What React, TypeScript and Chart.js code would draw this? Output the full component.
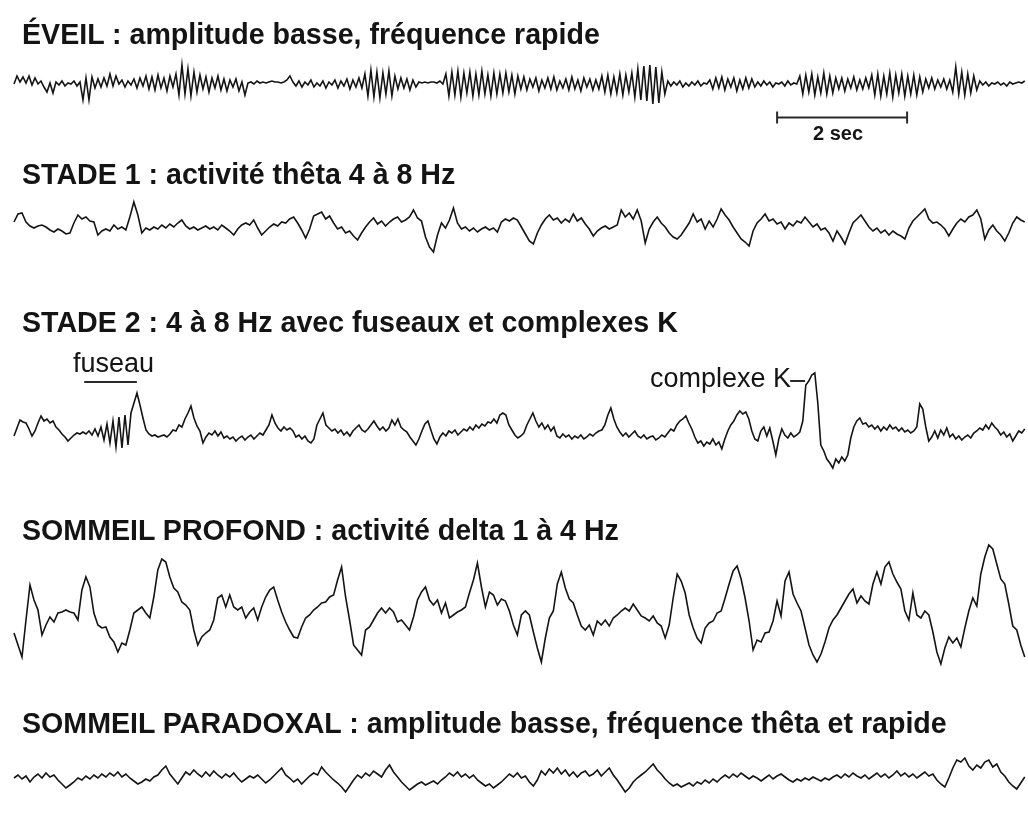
import React, { useEffect, useRef } from "react";
import { Chart, registerables } from "chart.js";

Chart.register(...registerables);

// ---- EEG traces (amplitude, arbitrary units; positive = up), equally spaced in time ----
const EVEIL = [
  0, 8,
  2, 7, 1, 8, -1, 6, 0, 3,
  -3, -8, 1,
  -9, 2, -1, 3, -2, 1, 0, 3, -2, 2,
  -16, 6, -16, 7, -4,
  5, -3, 6, -2,
  10, -2, 8, 0, 4, -3, 3, -1, 5, -4, 6, -2,
  8, -5, 7, -6, 9, -4, 6, -7, 8, -3, 10,
  -11, 19, -10, 15, -12, 12, -8,
  9, -5, 7, -8, 6, -4, 8, -6, 5, -7, 4, -3, 5,
  -7, 2, -11, 1,
  2, 0, 3, 1, 2, 1, 2, 3, 2, 2, 1, 2,
  4, 8, 2,
  -2, 3, -3, 2, -1, 4, -3, 1, -2, 3, -4, 2,
  -1, 4, -4, 3, -2, 5, -5, 4, -3, 6, -4,
  10, -12, 14, -13, 12, -14, 11, -10, 13, -12, 8,
  -5, 6, -4, 5, -6, 4, -3,
  2, 1, 2, 1, 2, 2, 1, 3, 0,
  10, -12, 12, -11, 13, -13, 11, -9, 12, -12, 10, -11, 13, -10, 9, -12, 11, -10,
  10, -9, 11, -8, 9, -10, 8,
  -5, 7, -6, 5, -3, 6, -7, 4, -4, 6, -5, 7, -6, 3, -4, 5,
  -6, 7, -5, 4, -7, 6, -3, 5, -6, 4, -5,
  8, -8, 9, -10, 7, -9, 10, -11, 9, -8, 11,
  -13, 15, -16, 18, -17, 19, -20, 17, -19, 12, -10,
  3, -2, 2, -1, 3, -3, 1, -2, 2, -1, 3, -2, 1, 0,
  4, -5, 6, -4, 7, -6, 5, -3, 6, -7, 4, -5, 6, -4, 5, -3,
  2, -2, 3, -1, 2, -3, 1, 0, 2, -2, 3, -1, 1, 0,
  8, -10, 9, -8, 10, -11, 7, -9, 11, -10, 8, -9, 6,
  -5, 6, -7, 5, -4, 7, -6, 4, -5, 6, -4,
  9, -11, 10, -12, 8, -10, 11, -13, 9, -9, 10, -12, 8, -10, 9, -11, 7, -8,
  5, -4, 6, -5, 4, -3, 5, -5, 4,
  -8, 17, -10, 12, -11, 10, -9, 8, -6,
  3, -1, 2, -2, 1, 0, 2, -1, 1, -2, 2, 0, 1, 2, 1, 3,
];

const STADE1 = [
  3, 11, 12, 3, -1, -3, -1, 0, -2, -5,
  -7, -4, -6, -9, -8, 2, 10, 6, 8, 4,
  3, -10, -6, -4, -6, 0, -4, -2, -5, 8,
  23, 10, -8, -3, -5, -2, -4, 0, -3, 1,
  -2, 2, 5, -1, -4, -2, -5, -3, -1, -4,
  -2, -5, 0, -3, -6, -10, -4, 0, 2, 0,
  5, -3, -10, -6, -2, 1, -1, 3, 2, 6,
  8, 2, -5, -13, -4, 9, 11, 13, 6, 9,
  2, -4, -2, -8, -6, -11, -15, -8, -2, 3,
  7, 1, 4, -1, 3, 6, 8, 3, 5, 8,
  15, 7, 4, -12, -22, -27, -10, 2, -3, 5,
  17, 2, -4, -2, -6, -3, -7, -4, -2, -5,
  -3, -7, 3, 6, 4, 7, 5, -2, -9, -16,
  -19, -8, 0, 6, 10, 5, 7, 2, 6, 3,
  11, 4, 7, 1, -4, -11, -6, -3, -1, -4,
  -2, 0, 15, 8, 12, 6, 15, 4, -18, -4,
  3, 8, 2, -2, -8, -12, -14, -10, -4, 2,
  11, 3, 6, -4, 4, -2, 6, 16, 10, 5,
  -2, -8, -14, -17, -21, -6, 2, 6, 11, 4,
  6, 1, 3, -4, 2, -1, 4, 2, 8, 3,
  -2, 1, -5, -3, -8, -16, -6, -12, -19, -8,
  2, 6, 10, 4, -2, -6, -3, -8, -5, -10,
  -6, -9, -11, -14, -3, 4, 8, 12, 16, 6,
  2, 3, 0, -4, -11, -4, 2, 6, 3, 8,
  10, 15, 6, -14, -5, 0, -6, -10, -16, -8,
  2, 8, 5, 3,
];

const STADE2 = [
  -3, 5, 13, 11, 10, 4, -3, 2, 10, 17,
  12, 14, 10, 12, 6, 3, -1, -4, -8, -5,
  -2, 0, -1, 1, -1, 2, -2, 4, -3, 6,
  -7, 9, -10, 12, -14, 16, -15, 18, -12, 20,
  30, 40, 28, 15, 3, -1, -3, -2, -4, -3,
  -2, -4, -1, 3, 2, 8, 6, 14, 20, 27,
  15, 7, 2, -10, -4, 0, -2, 2, -3, 1,
  -5, -3, -6, -4, -8, -5, -3, -7, -4, -2,
  -6, -3, 0, -2, 3, 8, 18, 10, 5, 2,
  6, 3, 5, 2, -4, -2, -6, -3, -8, -10,
  -6, 8, 14, 20, 8, 5, 2, 4, 0, 3,
  -2, 1, -3, 2, 5, 8, 3, 1, 4, 8,
  12, 7, 3, 6, 2, 5, 13, 8, 14, 6,
  3, 1, -4, -8, -12, -6, 2, 9, 12, 3,
  -6, -11, -4, 0, -3, 2, 0, 3, -2, 1,
  4, 2, 6, 3, 8, 5, 9, 7, 11, 10,
  14, 10, 18, 20, 18, 8, 3, -2, -5, -3,
  0, 8, 14, 20, 12, 6, 10, 4, 8, 2,
  6, -3, -5, -1, -4, -2, -6, -3, -5, -2,
  -6, -4, -1, -3, 0, 2, 3, 8, 18, 25,
  14, 6, 1, -3, 0, -4, -1, 2, -3, -5,
  -2, -6, -4, -3, -7, -5, -2, -4, 0, 4,
  2, 8, 12, 14, 17, 10, 4, -4, -10, -8,
  -13, -9, -11, -6, -12, -9, -16, -6, 2, 8,
  12, 18, 22, 19, 21, 14, 2, -6, -8, 2,
  6, -3, 5, -8, -22, -6, 4, -2, -5, 0,
  -4, -2, 1, 12, 48, 52, 58, 60, 30, -12,
  -18, -26, -30, -35, -26, -30, -24, -28, -22, -5,
  6, 12, 15, 9, 10, 6, 8, 4, 7, 2,
  6, 3, 8, 4, 6, 2, 5, 1, 3, 0,
  2, 6, 29, 24, 6, -8, -4, 2, -5, 3,
  -2, 5, -4, -1, -6, -3, -7, -4, -2, -5,
  0, 2, 5, 3, 8, 4, 10, 6, 3, -2,
  1, -4, -1, -8, -3, 2, 0, 4,
];

const PROFOND = [
  -28, -40, -52, -15, 20, 5, -5, -30, -20, -12,
  -17, -8, -7, -5, -7, -8, -15, 15, 28, 18,
  -8, -20, -23, -22, -32, -37, -47, -38, -40, -25,
  -8, -5, -2, -8, -13, 8, 35, 46, 43, 28,
  17, 13, 3, 0, -5, -25, -40, -32, -28, -25,
  -15, 7, 10, -2, 10, -2, -5, -2, -13, -7,
  -3, -15, -2, 8, 15, 18, 5, -7, -17, -25,
  -32, -33, -22, -13, -10, -5, -2, 2, 3, 8,
  10, 25, 38, 8, -15, -40, -45, -50, -25, -22,
  -15, -8, -3, -8, -3, -7, -17, -15, -20, -25,
  -12, 5, 13, 18, 5, 0, 5, -8, 2, -13,
  -10, -7, -5, -2, 12, 25, 42, 18, -2, 13,
  10, 0, 6, 4, -6, -20, -30, -10, -6, -10,
  -27, -43, -57, -33, -13, -6, 21, 33, 17, 6,
  2, -10, -21, -25, -20, -30, -16, -20, -15, -21,
  -13, -10, -6, -3, -6, 1, -5, -11, -13, -16,
  -11, -18, -21, -33, -20, 7, 31, 24, 12, -10,
  -23, -33, -38, -23, -18, -16, -8, -6, 7, 21,
  34, 39, 26, 7, -16, -45, -35, -37, -28, -27,
  -16, 4, -11, 24, 33, 11, 2, -6, -23, -40,
  -50, -57, -49, -37, -23, -15, -10, -3, 4, 11,
  16, 2, 9, 4, 1, 21, 33, 21, 38, 43,
  31, 23, 16, -6, -15, 12, -10, -13, -6, -10,
  -27, -47, -59, -43, -32, -38, -33, -42, -23, -6,
  7, -1, 31, 48, 60, 56, 41, 26, 21, 1,
  -21, -25, -40, -52,
];

const PARADOXAL = [
  2, 5, 1, 4, -2, 3, 6, 2, 7, 3,
  5, 0, -4, -8, -5, -2, 2, 0, 4, 1,
  5, 2, 6, 3, 7, 4, 8, 3, 6, 2,
  -1, -4, -2, 1, -1, 3, 5, 10, 14, 6,
  1, -4, 2, 8, 5, 10, 6, 3, 8, 4,
  9, 5, 2, 6, 3, 7, 2, -2, 1, 4,
  2, 5, 1, -3, 0, 4, 8, 12, 5, 2,
  -2, 1, -4, 0, 4, 7, 5, 13, 8, 4,
  0, -3, -7, -12, -6, 0, 5, 2, 7, 4,
  9, 6, 3, 10, 15, 8, 3, -2, -6, -10,
  -7, -4, -2, -5, -3, -1, -4, 0, 3, 7,
  4, 8, 3, 6, 2, 5, 0, -3, -6, -4,
  -8, -5, -2, 2, 6, 3, 7, 2, 4, -2,
  -6, 0, 9, 5, 11, 7, 12, 6, 10, 4,
  8, 3, 7, 9, 4, 6, 10, 4, 8, 12,
  5, 0, -6, -12, -8, -2, 2, 5, 8, 12,
  16, 10, 6, 1, -3, -6, -4, -7, -5, -3,
  -6, -2, -4, 0, -3, 1, -2, 2, 5, 2,
  6, 3, 7, 4, 1, 4, 2, -1, 2, 5,
  1, 4, 6, 3, 0, -2, 1, -1, 2, 0,
  3, 1, -1, 2, 0, 3, 5, 2, 6, 3,
  7, 4, 2, 5, 1, 4, 7, 3, 6, 2,
  5, 9, 4, 7, 3, 6, 2, 5, 8, 4,
  6, 0, -4, -7, 2, 12, 20, 18, 22, 14,
  10, 15, 12, 18, 20, 13, 16, 8, 4, -2,
  -6, -9, -3, 3,
];

const TITLES = [
  "ÉVEIL : amplitude basse, fréquence rapide",
  "STADE 1 : activité thêta 4 à 8 Hz",
  "STADE 2 : 4 à 8 Hz avec fuseaux et complexes K",
  "SOMMEIL PROFOND : activité delta 1 à 4 Hz",
  "SOMMEIL PARADOXAL : amplitude basse, fréquence thêta et rapide",
];

const TRACES = [EVEIL, STADE1, STADE2, PROFOND, PARADOXAL];

// ---- layout ----
const PAGE_W = 1028;
const PAGE_H = 821;
const TRACE_START_PX = 14;
const PX_PER_SECOND = 65;
const DURATION_S = 15.55;
const TRACE_BASELINES = [84, 225, 433, 605, 780];
const TITLE_SIZE = 28.6;
const TITLE_TOPS = [20, 160, 308, 516, 709];

const SCALE_BAR_START_S = 11.74;
const SCALE_BAR_LEN_S = 2;
const SCALE_BAR_LEVEL = -33.5; // on the ÉVEIL axis
const FUSEAU_T = [1.08, 1.89];
const FUSEAU_LEVEL = 51; // on the STADE 2 axis
const K_DASH_T = [11.94, 12.17];
const K_DASH_LEVEL = 52;

const FONT = '"Liberation Sans", Arial, Helvetica, sans-serif';
const INK = "#141414";

const annotationPlugin = {
  id: "eegAnnotations",
  afterDatasetsDraw(chart: any) {
    const { ctx, scales } = chart;
    const x = scales.x;
    ctx.save();
    ctx.strokeStyle = "#2a2a2a";
    ctx.lineWidth = 2;
    ctx.lineCap = "butt";
    const seg = (x1: number, y1: number, x2: number, y2: number) => {
      ctx.beginPath();
      ctx.moveTo(x1, y1);
      ctx.lineTo(x2, y2);
      ctx.stroke();
    };
    // 2 sec scale bar
    const sy = scales.y0.getPixelForValue(SCALE_BAR_LEVEL);
    const sa = x.getPixelForValue(SCALE_BAR_START_S);
    const sb = x.getPixelForValue(SCALE_BAR_START_S + SCALE_BAR_LEN_S);
    seg(sa, sy, sb, sy);
    seg(sa, sy - 6, sa, sy + 6);
    seg(sb, sy - 6, sb, sy + 6);
    // fuseau underline
    const fy = scales.y2.getPixelForValue(FUSEAU_LEVEL);
    seg(x.getPixelForValue(FUSEAU_T[0]), fy, x.getPixelForValue(FUSEAU_T[1]), fy);
    // complexe K pointer
    const ky = scales.y2.getPixelForValue(K_DASH_LEVEL);
    seg(x.getPixelForValue(K_DASH_T[0]), ky, x.getPixelForValue(K_DASH_T[1]), ky);
    ctx.restore();
  },
};

export default function App() {
  const canvasRef = useRef<HTMLCanvasElement | null>(null);

  useEffect(() => {
    const canvas = canvasRef.current;
    if (!canvas) return;
    const scales: any = {
      x: {
        type: "linear",
        display: false,
        min: -TRACE_START_PX / PX_PER_SECOND,
        max: (PAGE_W - TRACE_START_PX) / PX_PER_SECOND,
      },
    };
    TRACE_BASELINES.forEach((b, k) => {
      scales["y" + k] = { type: "linear", display: false, min: b - PAGE_H, max: b };
    });
    const datasets = TRACES.map((vals, k) => ({
      label: TITLES[k],
      data: vals.map((v, i) => ({ x: (i * DURATION_S) / (vals.length - 1), y: v })),
      yAxisID: "y" + k,
      borderColor: INK,
      borderWidth: 1.6,
      pointRadius: 0,
      tension: 0,
      fill: false,
      clip: false as any,
    }));
    const chart = new Chart(canvas, {
      type: "line",
      data: { datasets },
      options: {
        animation: false,
        responsive: false,
        maintainAspectRatio: false,
        layout: { padding: 0 },
        scales,
        plugins: {
          legend: { display: false },
          tooltip: { enabled: false },
          title: { display: false },
        },
        events: [],
      },
      plugins: [annotationPlugin],
    });
    return () => chart.destroy();
  }, []);

  const textBase: React.CSSProperties = {
    position: "absolute",
    whiteSpace: "nowrap",
    fontFamily: FONT,
    color: INK,
    lineHeight: 1,
    margin: 0,
  };

  return (
    <div
      style={{
        position: "absolute",
        left: 0,
        top: 0,
        width: PAGE_W,
        height: PAGE_H,
        background: "#ffffff",
        overflow: "hidden",
      }}
    >
      <canvas
        ref={canvasRef}
        width={PAGE_W}
        height={PAGE_H}
        style={{ position: "absolute", left: 0, top: 0, width: PAGE_W, height: PAGE_H, display: "block" }}
      />
      {TITLES.map((t, k) => (
        <div key={k} style={{ ...textBase, left: 22, top: TITLE_TOPS[k], fontSize: TITLE_SIZE, fontWeight: 700 }}>
          {t}
        </div>
      ))}
      <div style={{ ...textBase, left: 813, top: 123, fontSize: 20, fontWeight: 700 }}>2 sec</div>
      <div style={{ ...textBase, left: 73, top: 350, fontSize: 27, fontWeight: 400 }}>fuseau</div>
      <div style={{ ...textBase, left: 650, top: 365, fontSize: 27, fontWeight: 400 }}>complexe K</div>
    </div>
  );
}
